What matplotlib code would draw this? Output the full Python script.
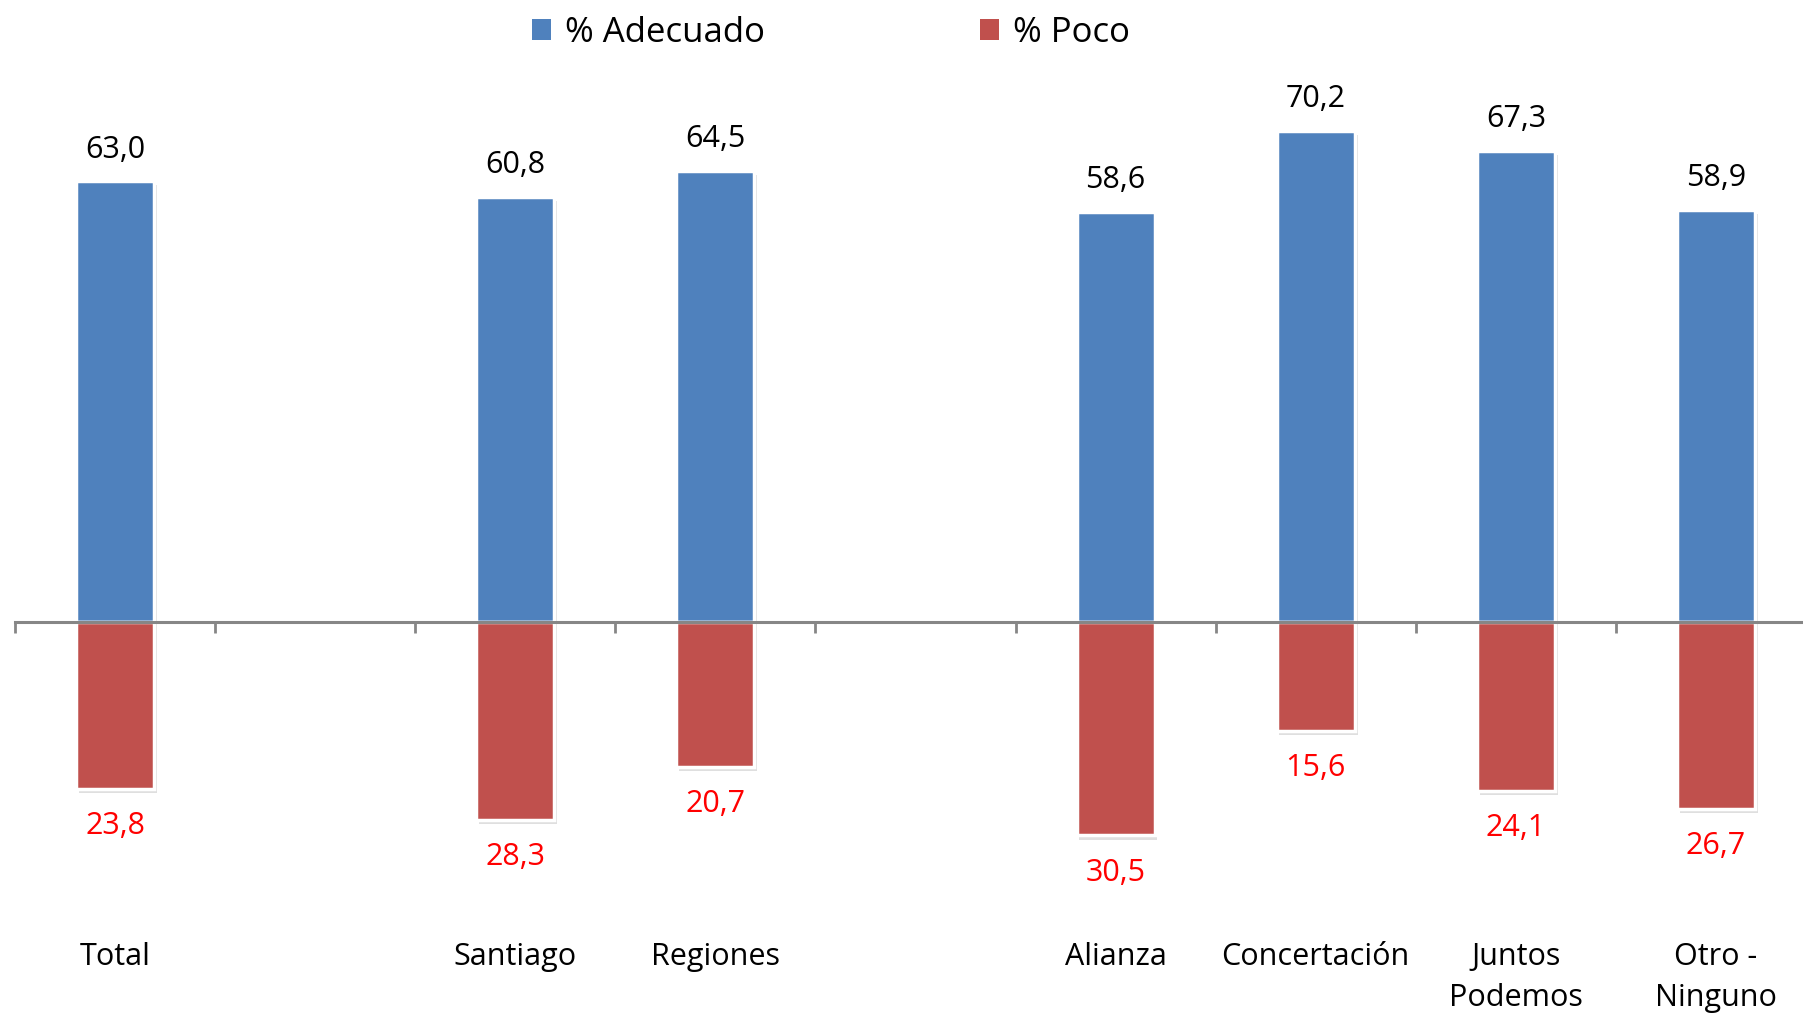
import matplotlib
matplotlib.use("Agg")
import matplotlib.pyplot as plt
import matplotlib.patheffects as pe
from matplotlib.patches import Patch

categories = ["Total", "", "Santiago", "Regiones", "", "Alianza",
              "Concertación", "Juntos\nPodemos", "Otro -\nNinguno"]
adecuado = [63.0, None, 60.8, 64.5, None, 58.6, 70.2, 67.3, 58.9]
poco = [23.8, None, 28.3, 20.7, None, 30.5, 15.6, 24.1, 26.7]

BLUE = "#4F81BD"
RED = "#C0504D"
plt.rcParams['font.family'] = ['Open Sans', 'DejaVu Sans']

fig = plt.figure(figsize=(18.03, 10.16), dpi=100)
ax = fig.add_axes([15 / 1803, 0.0, 1801 / 1803, 1.0])
ax.set_xlim(-0.5, len(categories) - 0.5)
ax.set_ylim(-56.3, 88.9)

shadow = [pe.SimplePatchShadow(offset=(2, -3), alpha=0.25, shadow_rgbFace="#808080"), pe.Normal()]

def fmt(v):
    return f"{v:.1f}".replace(".", ",")

for i, (cat, a, p) in enumerate(zip(categories, adecuado, poco)):
    if a is not None:
        b = ax.bar(i, a, width=0.39, color=BLUE, edgecolor="white", linewidth=2.5, zorder=2)
        b[0].set_path_effects(shadow)
        ax.annotate(fmt(a), (i, a), xytext=(0, 12), textcoords="offset points",
                    ha="center", va="bottom", fontsize=22, color="black")
    if p is not None:
        b = ax.bar(i, -p, width=0.39, color=RED, edgecolor="white", linewidth=2.5, zorder=2)
        b[0].set_path_effects(shadow)
        ax.annotate(fmt(p), (i, -p), xytext=(0, -16), textcoords="offset points",
                    ha="center", va="top", fontsize=22, color="red")
    if cat:
        ax.text(i, -45.7, cat, ha="center", va="top", fontsize=22,
                linespacing=1.47, color="black")

for s in ["top", "right", "left"]:
    ax.spines[s].set_visible(False)
ax.spines["bottom"].set_position(("data", 0))
ax.spines["bottom"].set_color("#868686")
ax.spines["bottom"].set_linewidth(2.2)
ax.spines["bottom"].set_zorder(3)
ax.set_yticks([])
ax.set_xticks([i - 0.5 for i in range(len(categories) + 1)])
ax.set_xticklabels([])
ax.tick_params(axis="x", direction="out", length=8, width=2, color="#868686")

handles = [Patch(facecolor=BLUE, label="% Adecuado"), Patch(facecolor=RED, label="% Poco")]
fig.legend(handles=handles, loc="center", bbox_to_anchor=(0.461, 0.968), ncol=2,
           frameon=False, fontsize=25, handlelength=0.55, handleheight=0.55,
           handletextpad=0.4, columnspacing=6.2)

fig.savefig("out.png", dpi=100)
